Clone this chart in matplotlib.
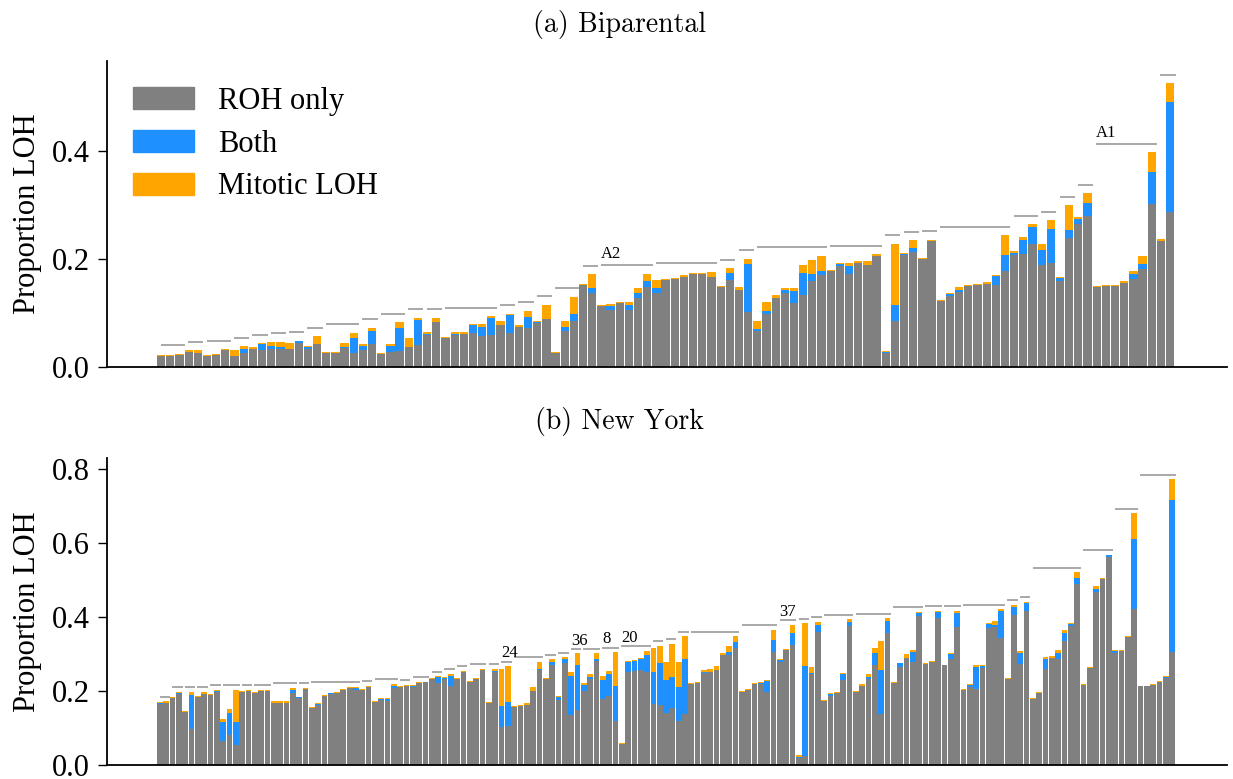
import numpy as np
import matplotlib
matplotlib.use("Agg")
import matplotlib.pyplot as plt
from matplotlib.patches import Patch

# ----------------------------------------------------------------------------------------------
# Data: per-sample LOH proportions, split into ROH only / both / mitotic LOH
# ----------------------------------------------------------------------------------------------
# (a) Biparental
roh_a = [.020, .020, .021, .027, .025, .020, .022, .031, .020, .025,
         .033, .031, .032, .032, .033, .043, .032, .042, .025, .025,
         .034, .025, .031, .042, .024, .027, .029, .037, .040, .059,
         .083, .053, .059, .061, .063, .057, .059, .078, .063, .074,
         .072, .081, .089, .025, .066, .085, .152, .137, .113, .105,
         .118, .105, .128, .148, .137, .161, .163, .167, .171, .172,
         .167, .148, .161, .143, .102, .066, .098, .128, .137, .118,
         .132, .158, .169, .178, .187, .172, .193, .189, .206, .025,
         .085, .207, .213, .199, .232, .122, .131, .138, .150, .151,
         .153, .151, .177, .207, .209, .228, .189, .192, .159, .239,
         .265, .280, .148, .150, .150, .155, .163, .181, .302, .233,
         .287]
both_a = [0, 0, 0, 0, 0, 0, 0, 0, 0, .007,
          0, .011, .006, .004, 0, .004, .004, 0, .001, .001,
          .002, .028, .007, .024, 0, .011, .043, 0, .047, .002,
          0, 0, .002, 0, .015, .017, .032, 0, .033, 0,
          .020, .002, 0, 0, .008, .013, 0, .008, 0, .008,
          0, .010, .009, .011, .009, 0, 0, 0, 0, 0,
          0, 0, .013, 0, .089, .004, .006, 0, .006, .023,
          .042, .013, .009, 0, .004, .015, 0, 0, 0, .002,
          .030, .002, .006, 0, 0, 0, .004, .004, 0, 0,
          0, .017, .030, .004, .026, .030, .028, .063, .005, .015,
          .009, .024, 0, 0, 0, 0, .009, .009, .058, 0,
          .203]
mito_a = [.002, .002, .003, .003, .006, .002, .002, .002, .011, .006,
          .004, .002, .008, .010, .011, .001, .002, .015, .001, .001,
          .008, .010, .004, .006, .001, .004, .011, .016, .004, .004,
          .008, .002, .004, .004, .002, .005, .003, .007, .002, .004,
          .012, .002, .026, .002, .011, .032, .002, .026, .002, .004,
          .002, .005, .008, .013, .015, .002, .002, .002, .002, .002,
          .009, .002, .008, .004, .009, .015, .015, .004, .002, .004,
          .015, .026, .028, .002, .002, .006, .002, .006, .002, .002,
          .113, .001, .015, .003, .003, .002, .002, .005, .002, .002,
          .004, .002, .037, .004, .006, .006, .011, .017, .002, .045,
          .004, .017, .002, .002, .002, .004, .006, .015, .037, .003,
          .035]
groups_a = [3, 2, 3, 2, 2, 2, 2, 2, 4, 2, 3, 2, 2, 6, 2, 2, 2, 3, 2, 6,
            7, 2, 2, 8, 6, 2, 2, 2, 8, 3, 2, 2, 2, 7, 2]
labels_a = {19: "A2", 33: "A1"}

# (b) New York
roh_b = [.165, .168, .181, .192, .143, .097, .184, .191, .188, .197,
         .065, .081, .054, .196, .200, .194, .199, .199, .168, .168,
         .168, .194, .180, .205, .153, .162, .186, .191, .195, .202,
         .208, .202, .202, .210, .169, .175, .173, .207, .210, .214,
         .209, .220, .223, .232, .221, .231, .214, .232, .250, .223,
         .232, .256, .167, .251, .102, .104, .156, .159, .161, .198,
         .257, .232, .270, .174, .276, .134, .147, .198, .232, .281,
         .178, .186, .118, .055, .252, .254, .255, .250, .163, .161,
         .141, .152, .118, .136, .218, .220, .248, .250, .255, .296,
         .298, .317, .196, .201, .217, .217, .196, .306, .279, .309,
         .323, .017, .023, .244, .360, .171, .187, .194, .228, .374,
         .196, .214, .233, .271, .138, .356, .221, .264, .288, .278,
         .402, .273, .278, .396, .269, .286, .372, .203, .210, .205,
         .262, .369, .372, .342, .232, .404, .273, .415, .178, .194,
         .259, .288, .286, .334, .375, .488, .216, .261, .467, .502,
         .561, .303, .307, .345, .421, .212, .212, .215, .224, .234,
         .305]
both_b = [.003, 0, 0, .003, 0, .091, 0, 0, 0, .003,
          .050, .059, .061, 0, 0, 0, 0, 0, 0, 0,
          0, .007, .002, 0, 0, .002, 0, .002, 0, 0,
          0, .005, 0, 0, 0, .002, .004, .006, 0, 0,
          .005, 0, 0, 0, .015, .003, .027, 0, 0, 0,
          0, 0, 0, .003, .056, .065, 0, 0, 0, 0,
          .002, 0, .007, .009, .010, .105, .122, .018, .004, .006,
          .050, .059, .094, 0, .025, .026, .032, .046, .087, .113,
          .087, .086, .091, .149, 0, 0, .002, 0, 0, 0,
          .008, .016, 0, 0, 0, .003, .030, .032, .003, 0,
          .032, .005, .243, .005, .019, 0, .003, 0, .016, .011,
          0, 0, .003, .030, .119, .032, 0, .010, 0, .027,
          .008, 0, 0, .017, 0, .013, .038, 0, .005, .059,
          .005, .012, .005, .073, 0, .023, .029, .022, 0, 0,
          .027, 0, .016, .022, .005, .016, 0, 0, .008, 0,
          .005, .005, 0, 0, .189, 0, 0, 0, 0, .003,
          .411]
mito_b = [.002, .003, .003, .001, .002, .008, .002, .005, .002, .002,
          .008, .010, .087, .003, .002, .002, .003, .003, .004, .004,
          .004, .006, .002, .002, .003, .003, .002, .002, .001, .003,
          .002, .003, .003, .003, .003, .003, .003, .005, .003, .002,
          .002, .003, .002, .003, .003, .002, .005, .002, .003, .003,
          .002, .003, .003, .006, .102, .097, .003, .003, .005, .012,
          .018, .002, .008, .003, .004, .011, .032, .004, .008, .014,
          .011, .008, .092, .003, .003, .003, .002, .011, .067, .048,
          .049, .089, .070, .062, .002, .003, .005, .008, .011, .005,
          .016, .014, .003, .003, .003, .003, .003, .027, .003, .003,
          .024, .003, .116, .016, .008, .003, .003, .002, .005, .008,
          .003, .005, .008, .016, .077, .008, .003, .002, .011, .005,
          .004, .002, .003, .003, .002, .003, .005, .002, .003, .005,
          .002, .002, .012, .005, .003, .005, .005, .003, .003, .003,
          .004, .005, .008, .008, .004, .016, .002, .003, .008, .003,
          .002, .003, .003, .003, .070, .002, .002, .003, .002, .003,
          .056]
groups_b = [2, 2, 2, 2, 2, 3, 2, 3, 4, 2, 8, 2, 4, 2, 3, 2, 2, 2, 3, 2,
            2, 5, 2, 2, 2, 3, 3, 5, 2, 2, 2, 8, 6, 3, 2, 2, 5, 6, 5, 3,
            3, 7, 2, 2, 8, 5, 4, 6]
labels_b = {20: "24", 24: "36", 26: "8", 27: "20", 33: "37"}

# ----------------------------------------------------------------------------------------------
# Plot
# ----------------------------------------------------------------------------------------------
plt.rcParams["font.family"] = ["Liberation Serif", "DejaVu Serif"]
c_roh, c_both, c_mito = "grey", "dodgerblue", "orange"

fig = plt.figure(figsize=(12.33, 7.79), dpi=100)
ax_a = fig.add_axes([0.0868, 0.5293, 0.9083, 0.3928])
ax_b = fig.add_axes([0.0868, 0.0184, 0.9083, 0.3933])


def draw_panel(ax, roh, both, mito, groups, labels, line_off, text_off):
    roh, both, mito = np.array(roh), np.array(both), np.array(mito)
    x = np.arange(len(roh))
    ax.bar(x, roh, width=0.9, color=c_roh, linewidth=0)
    ax.bar(x, both, width=0.9, bottom=roh, color=c_both, linewidth=0)
    ax.bar(x, mito, width=0.9, bottom=roh + both, color=c_mito, linewidth=0)

    # horizontal line above each family of samples
    total = roh + both + mito
    start = 0
    for gi, n in enumerate(groups):
        y = total[start:start + n].max() + line_off
        ax.hlines(y, start - 0.05, start + n - 1 + 0.6, color="#999999", lw=1.2)
        if gi in labels:
            ax.text(start - 0.05, y + text_off, labels[gi], fontsize=12,
                    ha="left", va="baseline")
        start += n

    for s in ["top", "right"]:
        ax.spines[s].set_visible(False)
    for s in ["left", "bottom"]:
        ax.spines[s].set_linewidth(1.3)
    ax.set_xticks([])
    ax.tick_params(axis="y", labelsize=22, length=6.5, width=1, pad=6)
    ax.set_ylabel("Proportion LOH", fontsize=22)
    ax.yaxis.set_label_coords(-0.058, 0.5)


draw_panel(ax_a, roh_a, both_a, mito_a, groups_a, labels_a, 0.0155, 0.013)
ax_a.set_xlim(-5.9, 116.2)
ax_a.set_ylim(0, 0.567)
ax_a.set_yticks([0.0, 0.2, 0.4])
ax_a.set_title("(a) Biparental", fontfamily="cmr10", fontsize=20, x=0.4576, pad=21)

draw_panel(ax_b, roh_b, both_b, mito_b, groups_b, labels_b, 0.013, 0.011)
ax_b.set_xlim(-8.35, 168.66)
ax_b.set_ylim(0, 0.829)
ax_b.set_yticks([0.0, 0.2, 0.4, 0.6, 0.8])
ax_b.set_title("(b) New York", fontfamily="cmr10", fontsize=20, x=0.4576, pad=21)

handles = [Patch(color=c_roh, label="ROH only"),
           Patch(color=c_both, label="Both"),
           Patch(color=c_mito, label="Mitotic LOH")]
ax_a.legend(handles=handles, loc="upper left", bbox_to_anchor=(0.0232, 0.914),
            frameon=False, fontsize=22, borderpad=0, borderaxespad=0,
            handlelength=2.0, handleheight=0.72, handletextpad=0.78,
            labelspacing=0.45)

plt.savefig("out.png", dpi=100)
